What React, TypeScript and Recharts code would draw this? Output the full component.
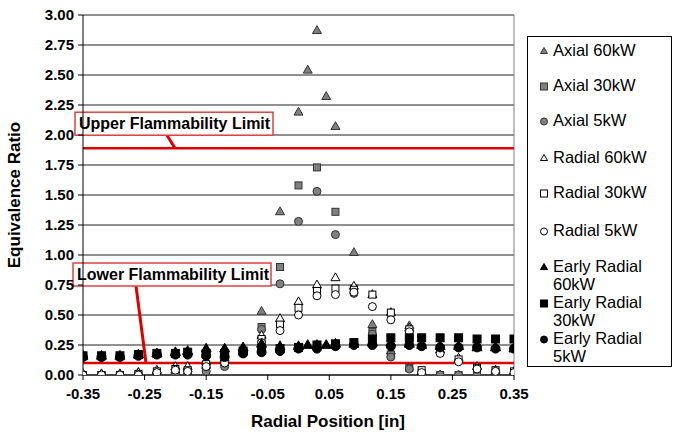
import React from 'react';
import { ScatterChart, Scatter, XAxis, YAxis, CartesianGrid, ReferenceLine } from 'recharts';

// radial positions [in]
const xPos = [-0.35, -0.32, -0.29, -0.26, -0.23, -0.2, -0.18, -0.15, -0.12, -0.09, -0.06, -0.03, 0, 0.03, 0.06, 0.09, 0.12, 0.15, 0.18, 0.2, 0.23, 0.26, 0.29, 0.32, 0.35];
// 60kW runs have two extra points near the centre
const xPos60 = [-0.35, -0.32, -0.29, -0.26, -0.23, -0.2, -0.18, -0.15, -0.12, -0.09, -0.06, -0.03, 0, 0.015, 0.03, 0.045, 0.06, 0.09, 0.12, 0.15, 0.18, 0.2, 0.23, 0.26, 0.29, 0.32, 0.35];

const axial60 = [0, 0, 0, 0.02, 0.03, 0.04, 0.05, 0.08, 0.12, 0.22, 0.53, 1.36, 2.19, 2.54, 2.87, 2.32, 2.07, 1.02, 0.42, 0.2, 0.41, 0.01, 0, 0, 0, 0.01, 0.01];
const axial30 = [0, 0, 0, 0, 0.01, 0.02, 0, 0.05, 0.09, 0.2, 0.4, 0.9, 1.58, 1.73, 1.36, 0.72, 0.36, 0.17, 0.06, 0.01, 0, 0, 0, 0.02, 0.02];
const axial5 = [0, 0, 0, 0, 0, 0.01, 0, 0.03, 0.07, 0.18, 0.38, 0.76, 1.28, 1.53, 1.17, 0.68, 0.34, 0.15, 0.05, 0, 0, 0, 0, 0, 0];
const radial60 = [0.01, 0.01, 0.01, 0.02, 0.04, 0.07, 0.07, 0.11, 0.14, 0.2, 0.33, 0.47, 0.61, 0.75, 0.81, 0.74, 0.67, 0.52, 0.39, 0.03, 0.21, 0.14, 0.07, 0.04, 0.03];
const radial30 = [0, 0, 0, 0.01, 0.03, 0.05, 0.04, 0.09, 0.11, 0.19, 0.3, 0.42, 0.56, 0.7, 0.72, 0.71, 0.67, 0.52, 0.38, 0.04, 0.2, 0.13, 0.06, 0.04, 0.03];
const radial5 = [0, 0, 0, 0, 0.02, 0.04, 0.03, 0.07, 0.1, 0.18, 0.27, 0.37, 0.5, 0.66, 0.67, 0.69, 0.57, 0.46, 0.36, 0.02, 0.18, 0.11, 0.05, 0.03, 0.02];
const early60 = [0.16, 0.16, 0.16, 0.17, 0.18, 0.19, 0.2, 0.22, 0.22, 0.23, 0.26, 0.24, 0.24, 0.25, 0.25, 0.25, 0.26, 0.26, 0.27, 0.27, 0.26, 0.25, 0.24, 0.24, 0.23, 0.23, 0.22];
const early30 = [0.16, 0.16, 0.16, 0.17, 0.18, 0.18, 0.19, 0.18, 0.18, 0.2, 0.22, 0.22, 0.23, 0.25, 0.26, 0.27, 0.3, 0.31, 0.31, 0.31, 0.31, 0.31, 0.3, 0.3, 0.3];
const early5 = [0.15, 0.15, 0.15, 0.16, 0.17, 0.17, 0.17, 0.16, 0.15, 0.18, 0.19, 0.2, 0.22, 0.22, 0.24, 0.25, 0.25, 0.24, 0.25, 0.24, 0.23, 0.23, 0.23, 0.22, 0.22];

const upperLimit = 1.89;
const lowerLimit = 0.1;
const xTicks = [-0.35, -0.25, -0.15, -0.05, 0.05, 0.15, 0.25, 0.35];
const yTicks = [0, 0.25, 0.5, 0.75, 1, 1.25, 1.5, 1.75, 2, 2.25, 2.5, 2.75, 3];

const font = 'Arial, "Liberation Sans", sans-serif';
const toPts = (xs: number[], ys: number[]) => xs.map((x, i) => ({ x, y: ys[i] }));

type Kind = 'triangle' | 'square' | 'circle';
const grey = { fill: '#808080', stroke: '#333' };
const white = { fill: '#fff', stroke: '#000' };
const black = { fill: '#000', stroke: '#000' };

function drawMarker(kind: Kind, cx: number, cy: number, s: number, c: { fill: string; stroke: string }) {
  if (kind === 'triangle') {
    const h = s * 0.87;
    return <path d={`M${cx},${cy - h / 2 - 1}L${cx + s / 2},${cy + h / 2 - 1}L${cx - s / 2},${cy + h / 2 - 1}Z`} fill={c.fill} stroke={c.stroke} strokeWidth={1} />;
  }
  if (kind === 'square') {
    return <rect x={cx - s / 2} y={cy - s / 2} width={s} height={s} fill={c.fill} stroke={c.stroke} strokeWidth={1} />;
  }
  return <circle cx={cx} cy={cy} r={s / 2} fill={c.fill} stroke={c.stroke} strokeWidth={1} />;
}

const shape = (kind: Kind, s: number, c: { fill: string; stroke: string }) => (p: any) => {
  if (p.cx == null || p.cy == null) return <g />;
  return drawMarker(kind, p.cx, p.cy, s, c);
};

const series = [
  { name: 'Axial 60kW', data: toPts(xPos60, axial60), kind: 'triangle' as Kind, c: grey, s: 9 },
  { name: 'Axial 30kW', data: toPts(xPos, axial30), kind: 'square' as Kind, c: grey, s: 7 },
  { name: 'Axial 5kW', data: toPts(xPos, axial5), kind: 'circle' as Kind, c: grey, s: 8 },
  { name: 'Radial 60kW', data: toPts(xPos, radial60), kind: 'triangle' as Kind, c: white, s: 9 },
  { name: 'Radial 30kW', data: toPts(xPos, radial30), kind: 'square' as Kind, c: white, s: 7 },
  { name: 'Radial 5kW', data: toPts(xPos, radial5), kind: 'circle' as Kind, c: white, s: 8 },
  { name: 'Early Radial 60kW', data: toPts(xPos60, early60), kind: 'triangle' as Kind, c: black, s: 10 },
  { name: 'Early Radial 30kW', data: toPts(xPos, early30), kind: 'square' as Kind, c: black, s: 8 },
  { name: 'Early Radial 5kW', data: toPts(xPos, early5), kind: 'circle' as Kind, c: black, s: 9 },
];

const legendLabels = [['Axial 60kW'], ['Axial 30kW'], ['Axial 5kW'], ['Radial 60kW'], ['Radial 30kW'], ['Radial 5kW'], ['Early Radial', '60kW'], ['Early Radial', '30kW'], ['Early Radial', '5kW']];

function LegendBox() {
  const rowTop = [4, 39, 74, 111, 146, 184, 220, 256, 292];
  return (
    <div style={{ position: 'absolute', left: 527, top: 36, width: 145, height: 331, border: '1px solid #000', background: '#fff', boxSizing: 'border-box', fontFamily: font, fontSize: 16.5 }}>
      {series.map((sr, i) => (
        <div key={sr.name} style={{ position: 'absolute', left: 25, top: rowTop[i], lineHeight: '18px', color: '#000', whiteSpace: 'nowrap' }}>
          <svg width={10} height={10} style={{ position: 'absolute', left: -14, top: 5 }}>
            {drawMarker(sr.kind, 5, 5.5, 7, sr.c)}
          </svg>
          {legendLabels[i].map((t) => (
            <div key={t}>{t}</div>
          ))}
        </div>
      ))}
    </div>
  );
}

function LimitLabel(props: any) {
  const { viewBox, text, boxDy, boxX, leader } = props;
  const x0 = viewBox.x;
  const y0 = viewBox.y;
  const bx = x0 + boxX;
  const by = y0 + boxDy;
  return (
    <g>
      <line x1={x0 + leader[0]} y1={by + 23} x2={x0 + leader[1]} y2={y0} stroke="#e00000" strokeWidth={3} />
      <rect x={bx} y={by} width={198} height={23} fill="#fff" stroke="#e04040" strokeWidth={1.5} />
      <text x={bx + 4} y={by + 17} fontFamily={font} fontWeight="bold" fontSize={16} fill="#000">{text}</text>
    </g>
  );
}

export default function App() {
  return (
    <div style={{ position: 'absolute', left: 0, top: 0, width: 676, height: 440, background: '#fff' }}>
      <ScatterChart width={676} height={440} margin={{ top: 15, right: 162, bottom: 35, left: 0 }}>
        <CartesianGrid horizontal vertical={false} stroke="#222" />
        <XAxis
          type="number"
          dataKey="x"
          domain={[-0.35, 0.35]}
          ticks={xTicks}
          allowDataOverflow
          tickFormatter={(v: number) => v.toFixed(2)}
          height={30}
          axisLine={{ stroke: '#000' }}
          tickLine={{ stroke: '#000' }}
          tickSize={5}
          tickMargin={8}
          tick={{ fontFamily: font, fontWeight: 'bold', fontSize: 15, fill: '#000' }}
          label={{
            content: () => (
              <text x={328} y={427} textAnchor="middle" fontFamily={font} fontWeight="bold" fontSize={17} fill="#000">Radial Position [in]</text>
            ),
          }}
        />
        <YAxis
          type="number"
          dataKey="y"
          domain={[0, 3]}
          ticks={yTicks}
          allowDataOverflow
          tickFormatter={(v: number) => v.toFixed(2)}
          width={83}
          axisLine={{ stroke: '#000' }}
          tickLine={{ stroke: '#000' }}
          tickSize={5}
          tickMargin={4}
          tick={{ fontFamily: font, fontWeight: 'bold', fontSize: 15, fill: '#000' }}
          label={{
            content: () => (
              <text x={20} y={195} transform="rotate(-90 20 195)" textAnchor="middle" fontFamily={font} fontWeight="bold" fontSize={17} fill="#000">Equivalence Ratio</text>
            ),
          }}
        />
        <ReferenceLine x={0.35} stroke="#808080" />
        <ReferenceLine
          y={upperLimit}
          stroke="#e00000"
          strokeWidth={2.5}
          label={{ content: (p: any) => <LimitLabel {...p} text="Upper Flammability Limit" boxDy={-36} boxX={-8} leader={[84, 92]} /> }}
        />
        <ReferenceLine
          y={lowerLimit}
          stroke="#e00000"
          strokeWidth={2.5}
          label={{ content: (p: any) => <LimitLabel {...p} text="Lower Flammability Limit" boxDy={-100} boxX={-10} leader={[53, 63]} /> }}
        />
        {series.map((sr) => (
          <Scatter key={sr.name} name={sr.name} data={sr.data} isAnimationActive={false} shape={shape(sr.kind, sr.s, sr.c)} />
        ))}
      </ScatterChart>
      <LegendBox />
    </div>
  );
}
